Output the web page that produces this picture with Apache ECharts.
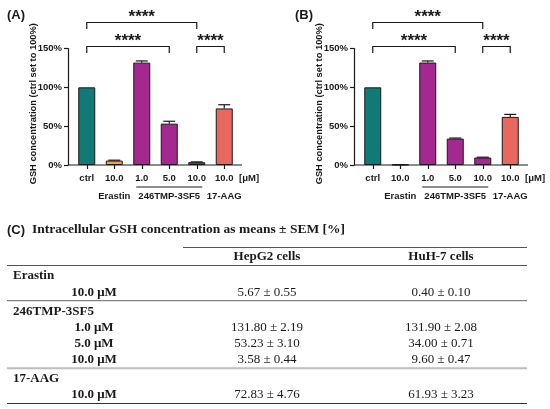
<!DOCTYPE html>
<html>
<head>
<meta charset="utf-8">
<title>Intracellular GSH concentration</title>
<script src="https://cdn.jsdelivr.net/npm/echarts@6/dist/echarts.min.js"></script>
<style>
html, body { margin: 0; padding: 0; background: #fff; }
#chart { width: 550px; height: 409px; }
</style>
</head>
<body>
<div id="chart"></div>
<script>
// values taken from table (C)
var categories = ['ctrl', '10.0', '1.0', '5.0', '10.0', '10.0'];
var hepg2Mean = [100, 5.67, 131.80, 53.23, 3.58, 72.83];
var hepg2Sem = [0, 0.55, 2.19, 3.10, 0.44, 4.76];
var huh7Mean = [100, 0.40, 131.90, 34.00, 9.60, 61.93];
var huh7Sem = [0, 0.10, 2.08, 0.71, 0.47, 3.23];
var yTicks = [0, 50, 100, 150];
var groupNames = ['Erastin', '246TMP-3SF5', '17-AAG'];
var groupMembers = [[1], [2, 3, 4], [5]];
var comparisons = [[0, 4], [0, 3], [4, 5]];
var comparisonTier = [1, 0, 0];
var significance = ['****', '****', '****'];
var cellLines = ['HepG2 cells', 'HuH-7 cells'];
var doseUnit = 'μM';

var barColors = ['#107a77', '#f2a535', '#a3288f', '#a3288f', '#a3288f', '#e9675f'];
var ink = '#1a1a1a';
var sans = "'Liberation Sans', Arial, sans-serif";
var serif = "'Liberation Serif', 'Times New Roman', serif";

var GRID_TOP = 48.5, GRID_H = 116.5, GRID_W = 165;
var panels = [
    { label: '(A)', mean: hepg2Mean, sem: hepg2Sem, left: 73, labelX: 7 },
    { label: '(B)', mean: huh7Mean, sem: huh7Sem, left: 359, labelX: 295 }
];

function renderErrorBar(params, api) {
    var s = api.value(2);
    if (!s) return;
    var base = api.coord([api.value(0), api.value(1)]);
    var top = api.coord([api.value(0), api.value(1) + s]);
    var st = { stroke: ink, lineWidth: 1.2 };
    return {
        type: 'group',
        children: [
            { type: 'line', shape: { x1: base[0], y1: base[1], x2: top[0], y2: top[1] }, style: st },
            { type: 'line', shape: { x1: top[0] - 6, y1: top[1], x2: top[0] + 6, y2: top[1] }, style: st }
        ]
    };
}

function renderBracket(params, api) {
    var i = params.dataIndex;
    var x1 = api.coord([api.value(0), 0])[0];
    var x2 = api.coord([api.value(1), 0])[0];
    var y = params.coordSys.y - 2 - comparisonTier[i] * 24;
    return {
        type: 'group',
        children: [
            {
                type: 'polyline',
                shape: { points: [[x1, y + 6.5], [x1, y], [x2, y], [x2, y + 6.5]] },
                style: { stroke: ink, lineWidth: 1.2, fill: null }
            },
            {
                type: 'text',
                x: (x1 + x2) / 2, y: y - 5,
                style: {
                    text: significance[i], fill: ink, align: 'center', verticalAlign: 'middle',
                    font: 'bold 17px ' + sans
                }
            }
        ]
    };
}

function renderGroupLabel(params, api) {
    var i = params.dataIndex;
    var p1 = api.coord([api.value(0), 0]);
    var p2 = api.coord([api.value(1), 0]);
    var children = [{
        type: 'text',
        x: (p1[0] + p2[0]) / 2, y: p1[1] + 31,
        style: {
            text: groupNames[i], fill: ink, align: 'center', verticalAlign: 'middle',
            font: 'bold 9.5px ' + sans
        }
    }];
    if (api.value(1) > api.value(0)) {
        children.push({
            type: 'line',
            shape: { x1: p1[0] - 5.5, y1: p1[1] + 22, x2: p2[0] + 5.5, y2: p1[1] + 22 },
            style: { stroke: ink, lineWidth: 1 }
        });
    }
    return { type: 'group', children: children };
}

var grids = [], xAxes = [], yAxes = [], series = [], graphics = [];

panels.forEach(function (p, k) {
    grids.push({ left: p.left, top: GRID_TOP, width: GRID_W, height: GRID_H });
    xAxes.push({
        type: 'category', gridIndex: k, data: categories,
        axisLine: { show: false },
        axisTick: { show: true, alignWithLabel: true, length: 4, lineStyle: { color: ink, width: 1.2 } },
        axisLabel: { interval: 0, margin: 8, color: ink, fontSize: 9.5, fontWeight: 'bold', fontFamily: sans },
        name: '[' + doseUnit + ']', nameLocation: 'end', nameGap: 1,
        nameTextStyle: { color: ink, fontSize: 9.5, fontWeight: 'bold', fontFamily: sans, verticalAlign: 'top', padding: [8, 0, 0, 0] }
    });
    yAxes.push({
        type: 'value', gridIndex: k, min: yTicks[0], max: yTicks[yTicks.length - 1],
        interval: yTicks[1] - yTicks[0], offset: 5,
        axisLine: { show: true, lineStyle: { color: ink, width: 1.2 } },
        axisTick: { show: true, length: 4, lineStyle: { color: ink, width: 1.2 } },
        axisLabel: { formatter: '{value}%', margin: 6, color: ink, fontSize: 9.5, fontWeight: 'bold', fontFamily: sans },
        splitLine: { show: false },
        name: 'GSH concentration (ctrl set to 100%)', nameLocation: 'middle', nameGap: 30,
        nameMoveOverlap: false,
        nameTextStyle: { color: ink, fontSize: 9.3, fontWeight: 'bold', fontFamily: sans, padding: [0, 0, 0, 6] }
    });
    series.push({
        type: 'bar', xAxisIndex: k, yAxisIndex: k, barWidth: 17,
        data: p.mean.map(function (v, i) {
            return { value: v, itemStyle: { color: barColors[i] } };
        }),
        itemStyle: { borderColor: ink, borderWidth: 1 },
        silent: true
    });
    series.push({
        type: 'custom', xAxisIndex: k, yAxisIndex: k, z: 3, silent: true,
        renderItem: renderErrorBar,
        data: p.mean.map(function (v, i) { return [i, v, p.sem[i]]; })
    });
    series.push({
        type: 'custom', xAxisIndex: k, yAxisIndex: k, z: 3, silent: true,
        renderItem: renderBracket,
        data: comparisons.map(function (c) { return [c[0], c[1]]; })
    });
    series.push({
        type: 'custom', xAxisIndex: k, yAxisIndex: k, z: 3, silent: true,
        renderItem: renderGroupLabel,
        data: groupMembers.map(function (g) { return [g[0], g[g.length - 1]]; })
    });
    // baseline of the chart (x axis line runs a bit past the bars)
    graphics.push({
        type: 'line',
        shape: { x1: p.left - 5, y1: GRID_TOP + GRID_H, x2: p.left + GRID_W + 4, y2: GRID_TOP + GRID_H },
        style: { stroke: ink, lineWidth: 1.2 }
    });
    graphics.push({
        type: 'text', x: p.labelX, y: 15,
        style: { text: p.label, fill: ink, font: 'bold 13px ' + sans, verticalAlign: 'middle' }
    });
});

// table (C)
var T_LEFT = 7, T_RIGHT = 527, T_HEAD_LEFT = 183, DOSE_X = 94, COL_X = [267, 441];
graphics.push({
    type: 'text', x: T_LEFT, y: 230,
    style: { text: '(C)', fill: ink, font: 'bold 13px ' + sans, verticalAlign: 'middle' }
});
graphics.push({
    type: 'text', x: 32, y: 230,
    style: { text: 'Intracellular GSH concentration as means ± SEM [%]', fill: ink, font: 'bold 13.5px ' + serif, verticalAlign: 'middle' }
});
function rule(x1, y, color, w) {
    graphics.push({ type: 'line', shape: { x1: x1, y1: y, x2: T_RIGHT, y2: y }, style: { stroke: color, lineWidth: w } });
}
function cell(text, x, y, align, bold) {
    graphics.push({
        type: 'text', x: x, y: y,
        style: { text: text, fill: ink, align: align, verticalAlign: 'middle', font: (bold ? 'bold ' : '') + '13px ' + serif }
    });
}
rule(T_HEAD_LEFT, 247.5, '#555', 1);
cellLines.forEach(function (c, j) { cell(c, COL_X[j], 257, 'center', true); });
rule(T_LEFT, 265.5, '#555', 1);

var ruleColors = ['#666', '#bdbdbd', '#333'];
var ruleWidths = [1, 2, 1.2];
var y = 265.5;
groupMembers.forEach(function (g, gi) {
    y += 10.5;
    cell(groupNames[gi], 13, y, 'left', true);
    g.forEach(function (idx) {
        y += 16.2;
        cell(categories[idx] + ' ' + doseUnit, DOSE_X, y, 'center', true);
        cell(hepg2Mean[idx].toFixed(2) + ' ± ' + hepg2Sem[idx].toFixed(2), COL_X[0], y, 'center', false);
        cell(huh7Mean[idx].toFixed(2) + ' ± ' + huh7Sem[idx].toFixed(2), COL_X[1], y, 'center', false);
    });
    y += 8.5;
    rule(T_LEFT, y, ruleColors[gi], ruleWidths[gi]);
});

var myChart = echarts.init(document.getElementById('chart'), null, { renderer: 'canvas' });
myChart.setOption({
    animation: false,
    backgroundColor: '#fff',
    grid: grids,
    xAxis: xAxes,
    yAxis: yAxes,
    series: series,
    graphic: graphics
});
</script>
</body>
</html>
